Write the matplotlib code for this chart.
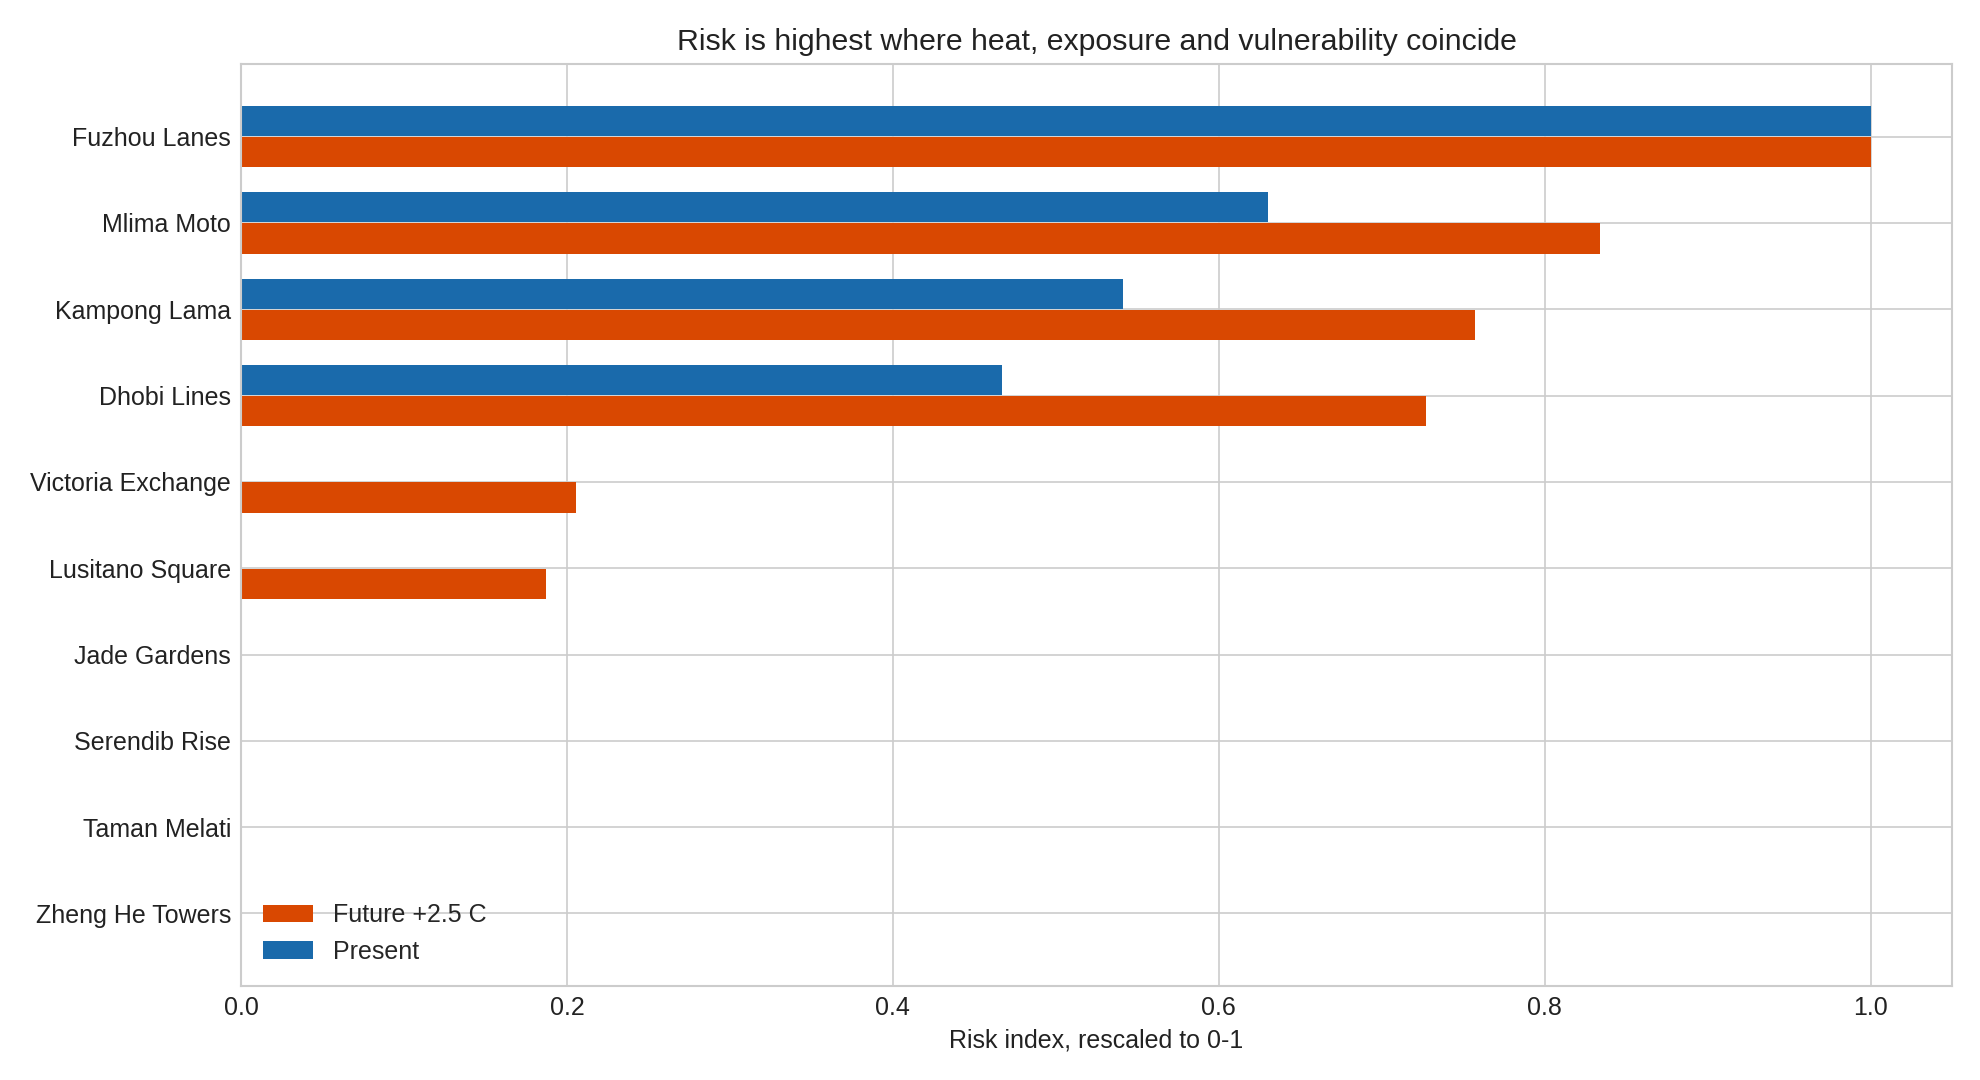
import matplotlib
matplotlib.use("Agg")
import matplotlib.pyplot as plt
import numpy as np

plt.style.use("seaborn-v0_8-whitegrid")
plt.rcParams["font.family"] = ["Liberation Sans", "DejaVu Sans"]

neighbourhoods = ["Fuzhou Lanes", "Mlima Moto", "Kampong Lama", "Dhobi Lines",
                  "Victoria Exchange", "Lusitano Square", "Jade Gardens",
                  "Serendib Rise", "Taman Melati", "Zheng He Towers"]
present = [1.0, 0.630, 0.541, 0.467, 0.0, 0.0, 0.0, 0.0, 0.0, 0.0]
future = [1.0, 0.834, 0.757, 0.727, 0.2055, 0.187, 0.0, 0.0, 0.0, 0.0]

c_present = "#1a6aab"
c_future = "#d94801"

fig = plt.figure(figsize=(19.8, 10.8), dpi=100)
ax = fig.add_axes([0.1217, 0.087, 0.8643, 0.8537])

y = np.arange(len(neighbourhoods))
h = 0.35
ax.barh(y + 0.18, future, height=h, color=c_future, label="Future +2.5 C", zorder=2)
ax.barh(y - 0.18, present, height=h, color=c_present, label="Present", zorder=2)

ax.set_yticks(y)
ax.set_yticklabels(neighbourhoods)
ax.invert_yaxis()
ax.set_xlim(0, 1.05)
ax.set_axisbelow(True)
ax.tick_params(axis="both", labelsize=18, colors="#222222", pad=7)
ax.set_xlabel("Risk index, rescaled to 0-1", fontsize=18, color="#222222", labelpad=6)
ax.set_title("Risk is highest where heat, exposure and vulnerability coincide",
             fontsize=21.8, color="#222222", pad=10)
for s in ax.spines.values():
    s.set_visible(True)
    s.set_color("#cccccc")
    s.set_linewidth(1.5)
ax.grid(True, color="#cccccc", linewidth=1.2)

ax.legend(loc="lower left", fontsize=18, frameon=False, borderaxespad=0.5)

fig.savefig("out.png", dpi=100)
